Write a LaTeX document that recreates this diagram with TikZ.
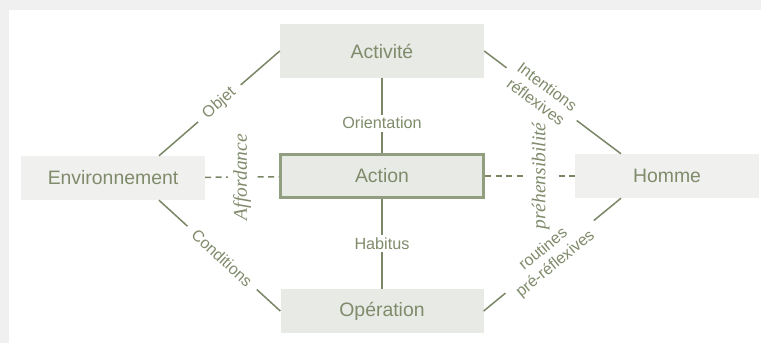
\documentclass[tikz,border=0pt]{standalone}
\usepackage{fontspec}
\setmainfont{Liberation Sans}
\newfontfamily\serifit{Liberation Serif}
\usetikzlibrary{calc}
\definecolor{txt}{HTML}{7F8B6B}
\definecolor{ln}{HTML}{7A8766}
\definecolor{bord}{HTML}{919E80}
\definecolor{fillA}{HTML}{E8EAE5}
\definecolor{fillB}{HTML}{F0F0EE}
\definecolor{bg}{HTML}{F0F0F0}
\begin{document}
\begin{tikzpicture}[x=1pt,y=-1pt,
  boxbase/.style={inner sep=0pt, minimum height=44pt, text=txt, font=\fontsize{19.4}{22}\selectfont},
  boxA/.style={boxbase, fill=fillA},
  boxB/.style={boxbase, fill=fillB},
  conn/.style={draw=ln, line width=1.5pt},
  dashline/.style={draw=ln, line width=1.5pt, dash pattern=on 6pt off 4.5pt},
  vlab/.style={fill=white, text=txt, inner sep=2.5pt, font=\fontsize{16.2}{19}\selectfont},
  slab/.style={fill=white, text=txt, sloped, inner xsep=9pt, inner ysep=1pt, align=center, font=\fontsize{16}{19}\selectfont},
  serlab/.style={fill=white, text=txt, rotate=90, inner xsep=2pt, inner ysep=5pt, font=\serifit\itshape\fontsize{19.5}{22}\selectfont}
]
\fill[bg] (0,0) rectangle (761,343);
\fill[white] (9,10) rectangle (761,343);
\useasboundingbox (0,0) rectangle (761,343);

\node[boxA, minimum width=204pt, minimum height=54pt] (act) at (382,51) {Activité};
\node[boxB, minimum width=184pt] (env) at (113,178) {Environnement};
\node[boxA, draw=bord, line width=3pt, minimum width=203pt, minimum height=43pt] (action) at (382,176) {Action};
\node[boxB, minimum width=184pt] (homme) at (667,176) {Homme};
\node[boxA, minimum width=203pt] (ope) at (382,311) {Opération};

\draw[dashline] (env) -- node[serlab] {Affordance} (action);
\draw[dashline] (action) -- node[serlab, pos=0.62] {préhensibilité} (homme);

\draw[conn] (act) -- node[vlab, pos=0.6] {Orientation} (action);
\draw[conn] (action) -- node[vlab, pos=0.5] {Habitus} (ope);

\draw[conn] ([xshift=46pt]env.north) -- node[slab, pos=0.5] {Objet} (act.west);
\draw[conn] (act.east) -- node[slab, pos=0.42] {Intentions\\réflexives} ([xshift=-46pt]homme.north);
\draw[conn] ([xshift=46pt]env.south) -- node[slab, pos=0.52] {Conditions} (ope.west);
\draw[conn] (ope.east) -- node[slab, pos=0.48] {routines\\pré-réflexives} ([xshift=-46pt]homme.south);
\end{tikzpicture}
\end{document}
